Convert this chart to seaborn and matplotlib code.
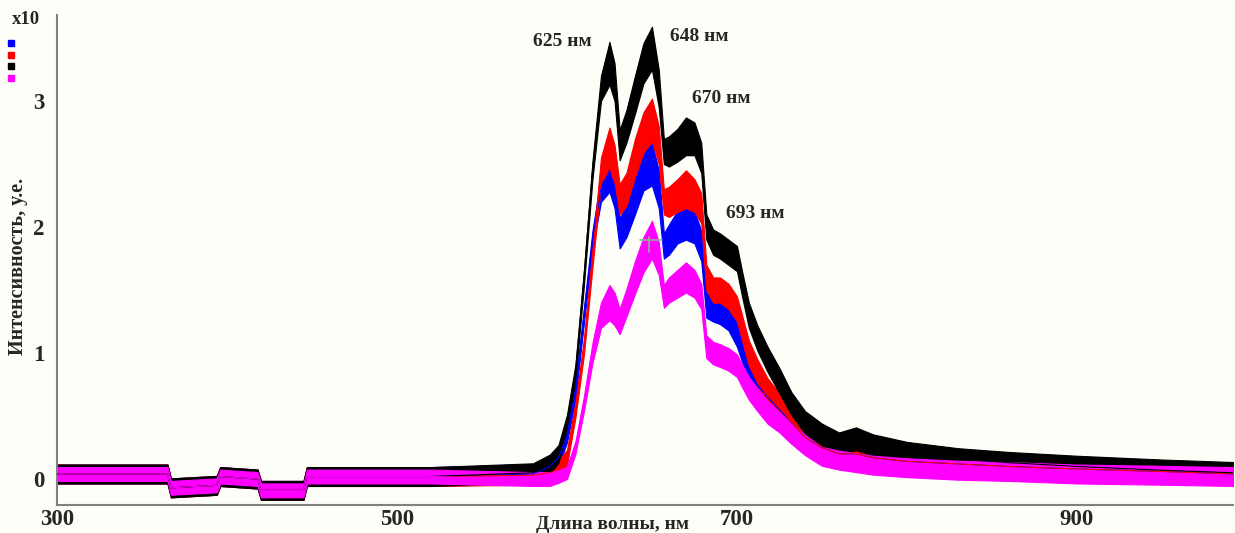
import numpy as np
import pandas as pd
import matplotlib
matplotlib.use("Agg")
import matplotlib.pyplot as plt
from matplotlib.patches import Rectangle
import seaborn as sns

# wavelength grid, nm
wavelength = [300, 365, 367, 394, 396, 418, 420, 445, 447, 520,
              580, 590, 595, 600, 605, 610, 615, 620, 625, 628,
              631, 635, 640, 645, 650, 654, 657, 660, 665, 670,
              675, 679, 682, 686, 690, 695, 700, 703, 707, 712,
              718, 725, 732, 740, 750, 760, 770, 780, 800, 830,
              860, 900, 950, 992]

# shared baseline (300-520 nm)
base = [0.04, 0.04, -0.07, -0.05, 0.02, 0.0, -0.09, -0.09, 0.02, 0.02]

blue = base + [0.04, 0.1, 0.17, 0.35, 0.7, 1.3, 1.9, 2.3, 2.45, 2.3,
               1.95, 2.05, 2.25, 2.45, 2.5, 2.3, 1.85, 1.9, 2.0, 2.05,
               2.0, 1.85, 1.38, 1.35, 1.33, 1.28, 1.15, 1.03, 0.88, 0.75,
               0.65, 0.55, 0.45, 0.33, 0.25, 0.2, 0.2, 0.17, 0.14, 0.12,
               0.1, 0.08, 0.06, 0.04]
red = base + [0.03, 0.05, 0.08, 0.17, 0.55, 1.05, 1.75, 2.45, 2.62, 2.5,
              2.22, 2.3, 2.55, 2.75, 2.85, 2.65, 2.2, 2.2, 2.25, 2.3,
              2.25, 2.15, 1.6, 1.5, 1.5, 1.45, 1.35, 1.2, 1.0, 0.85,
              0.7, 0.58, 0.45, 0.33, 0.25, 0.2, 0.2, 0.17, 0.14, 0.12,
              0.1, 0.08, 0.06, 0.04]
black = base + [0.05, 0.12, 0.2, 0.45, 0.85, 1.6, 2.45, 3.1, 3.3, 3.15,
                2.65, 2.8, 3.05, 3.3, 3.42, 3.1, 2.6, 2.6, 2.65, 2.72,
                2.7, 2.55, 2.0, 1.88, 1.85, 1.8, 1.75, 1.55, 1.3, 1.12,
                0.95, 0.78, 0.6, 0.45, 0.35, 0.28, 0.32, 0.27, 0.21, 0.16,
                0.13, 0.1, 0.07, 0.05]
magenta = base + [0.0, 0.0, 0.02, 0.05, 0.25, 0.6, 1.0, 1.3, 1.4, 1.35,
                  1.25, 1.4, 1.6, 1.78, 1.9, 1.75, 1.45, 1.5, 1.55, 1.6,
                  1.55, 1.45, 1.05, 1.0, 0.98, 0.95, 0.9, 0.82, 0.72, 0.63,
                  0.53, 0.45, 0.36, 0.27, 0.18, 0.15, 0.13, 0.11, 0.09, 0.07,
                  0.06, 0.04, 0.03, 0.02]

# half-width of the noise band
band = [0.075] * 10 + [0.075, 0.075, 0.07, 0.06, 0.06, 0.06, 0.07, 0.1, 0.17, 0.15,
                       0.12, 0.13, 0.15, 0.16, 0.17, 0.15, 0.1, 0.12, 0.13, 0.15,
                       0.13, 0.12, 0.1, 0.1, 0.1, 0.1, 0.1, 0.1, 0.1, 0.1,
                       0.1, 0.1, 0.09, 0.09, 0.09, 0.09, 0.09, 0.085, 0.085, 0.085,
                       0.085, 0.085, 0.085, 0.085]
band_m = [0.055] * 10 + [0.055, 0.055, 0.05, 0.05, 0.05, 0.06, 0.08, 0.1, 0.14, 0.13,
                         0.1, 0.11, 0.13, 0.14, 0.15, 0.13, 0.09, 0.1, 0.11, 0.12,
                         0.11, 0.1, 0.09, 0.09, 0.09, 0.09, 0.09, 0.09, 0.09, 0.09,
                         0.09, 0.08, 0.08, 0.08, 0.075, 0.075, 0.075, 0.075, 0.075, 0.075,
                         0.075, 0.075, 0.075, 0.075]

peak_labels = ["625 нм", "648 нм", "670 нм", "693 нм"]
peak_label_x = [597, 678, 691, 711]
peak_label_y = [3.47, 3.51, 3.02, 2.11]

series = {"blue": blue, "red": red, "black": black, "magenta": magenta}
colors = {"blue": "#0000ff", "red": "#ff0000", "black": "#000000", "magenta": "#ff00ff"}

df = pd.DataFrame({"wavelength": wavelength, **series})
long = df.melt(id_vars="wavelength", var_name="series", value_name="intensity")

sns.set_style("white")
plt.rcParams["font.family"] = ["Liberation Serif", "DejaVu Serif"]
plt.rcParams["font.weight"] = "bold"

bg = "#fefef8"
fig = plt.figure(figsize=(12.35, 5.33), dpi=100, facecolor=bg)
ax = fig.add_axes([0.04615, 0.05253, 0.9522, 0.9193])
ax.set_facecolor(bg)

for name in ["blue", "red", "black", "magenta"]:
    y = np.array(series[name])
    w = np.array(band_m if name == "magenta" else band)
    ax.fill_between(wavelength, y - w, y + w, color=colors[name],
                    edgecolor=colors[name], lw=0.8, zorder=2)
    sns.lineplot(data=long[long["series"] == name], x="wavelength", y="intensity",
                 color=colors[name], lw=0.8, ax=ax, legend=False, zorder=3)

# cursor marker
ax.plot([643, 656], [1.9, 1.9], color="#90b090", lw=1.2, zorder=4)
ax.plot([648, 648], [1.8, 1.92], color="#90b090", lw=1.2, zorder=4)

for t, x, y in zip(peak_labels, peak_label_x, peak_label_y):
    ax.text(x, y, t, ha="center", va="center", fontsize=14, fontweight="bold")

ax.set_xlim(300, 991.8)
ax.set_ylim(-0.206, 3.683)
ax.set_xticks([300, 500, 700, 900])
ax.set_xticks(np.arange(350, 991, 50), minor=True)
ax.set_yticks([0, 1, 2, 3])
ax.set_yticks(np.arange(-0.2, 3.7, 0.2), minor=True)
ax.tick_params(axis="x", which="both", direction="in", length=3, color="#808080",
               labelsize=16.5, pad=3)
ax.tick_params(axis="y", which="both", direction="out", length=3, color="#808080",
               labelsize=16.5, pad=6)
for lab in ax.get_xticklabels() + ax.get_yticklabels():
    lab.set_fontweight("bold")

ax.set_xlabel("")
ax.set_ylabel("")
for s in ["top", "right"]:
    ax.spines[s].set_visible(False)
for s in ["left", "bottom"]:
    ax.spines[s].set_color("#808080")
    ax.spines[s].set_linewidth(1.5)

ax.text(0.472, -0.039, "Длина волны, нм", transform=ax.transAxes, ha="center",
        va="center", fontsize=14, fontweight="bold")
ax.text(-0.033, 0.486, "Интенсивность, у.е.", transform=ax.transAxes, ha="center",
        va="center", rotation=90, fontsize=14.5, fontweight="bold")
fig.text(0.021, 0.964, "x10", ha="center", va="center", fontsize=13.5, fontweight="bold")

# small colour squares at top left
for i, name in enumerate(["blue", "red", "black", "magenta"]):
    yy = 1 - (43 + 11.7 * i) / 533
    fig.add_artist(Rectangle((8 / 1235, yy - 3 / 533), 6 / 1235, 6 / 533,
                             transform=fig.transFigure, color=colors[name]))

fig.savefig("out.png", dpi=100, facecolor=bg)
